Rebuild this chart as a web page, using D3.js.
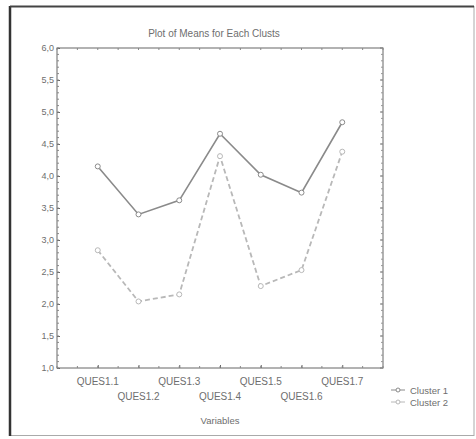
<!DOCTYPE html>
<html><head><meta charset="utf-8">
<script src="https://cdn.jsdelivr.net/npm/d3@7"></script>
<style>body{margin:0;background:#fff}text{font-family:"Liberation Sans",Arial,sans-serif}</style>
</head><body><svg id="c" width="476" height="439"></svg>
<script>
const categories = ["QUES1.1","QUES1.2","QUES1.3","QUES1.4","QUES1.5","QUES1.6","QUES1.7"];
const cluster1 = [4.15, 3.40, 3.62, 4.66, 4.02, 3.74, 4.84];
const cluster2 = [2.84, 2.04, 2.15, 4.31, 2.28, 2.53, 4.38];
const yTicks = [1.0,1.5,2.0,2.5,3.0,3.5,4.0,4.5,5.0,5.5,6.0];
const seriesNames = ["Cluster 1","Cluster 2"];

const svg = d3.select("#c");
const L=57,R=383,T=48,B=368;
const x = d3.scaleLinear().domain([0,categories.length+1]).range([L,R]);
const y = d3.scaleLinear().domain([1,6]).range([B,T]);
const txt = "#6e6e6e";

// outer frame
svg.append("rect").attr("x",10).attr("y",6.5).attr("width",464).attr("height",429)
  .attr("fill","none").attr("stroke","#aaa").attr("stroke-width",1);
svg.append("line").attr("x1",10).attr("x2",10).attr("y1",6).attr("y2",436).attr("stroke","#333").attr("stroke-width",2.5);
svg.append("line").attr("x1",10).attr("x2",474).attr("y1",6.5).attr("y2",6.5).attr("stroke","#444").attr("stroke-width",2);

// title
svg.append("text").attr("x",214).attr("y",37).attr("text-anchor","middle")
  .attr("font-size",10).attr("fill",txt).text("Plot of Means for Each Clusts");

// plot frame
svg.append("rect").attr("x",L).attr("y",T).attr("width",R-L).attr("height",B-T)
  .attr("fill","none").attr("stroke","#666").attr("stroke-width",1);

// y axis
const ya = svg.append("g").attr("transform",`translate(${L},0)`)
  .call(d3.axisLeft(y).tickValues(yTicks).tickSize(-3).tickPadding(3).tickFormat(d=>d3.format(".1f")(d).replace(".",",")));
ya.select(".domain").remove();
ya.selectAll("text").attr("font-size",9).attr("fill",txt);
ya.selectAll("line").attr("stroke","#666");
// minor ticks
const minor = d3.range(1,6.01,0.1);
svg.append("g").selectAll("line").data(minor).join("line")
  .attr("x1",L).attr("x2",L+2).attr("y1",d=>y(d)).attr("y2",d=>y(d)).attr("stroke","#888");
svg.append("g").selectAll("line").data(yTicks).join("line")
  .attr("x1",R).attr("x2",R-3).attr("y1",d=>y(d)).attr("y2",d=>y(d)).attr("stroke","#777");
svg.append("g").selectAll("line").data(minor).join("line")
  .attr("x1",R).attr("x2",R-2).attr("y1",d=>y(d)).attr("y2",d=>y(d)).attr("stroke","#999");

// x axis ticks
const xIdx = d3.range(1,categories.length+1);
const xa = svg.append("g").attr("transform",`translate(0,${B})`)
  .call(d3.axisBottom(x).tickValues(xIdx).tickSize(-3).tickFormat(""));
xa.select(".domain").remove();
xa.selectAll("line").attr("stroke","#666");
const xminor = d3.range(0,categories.length+1.01,0.5);
svg.append("g").selectAll("line").data(xminor).join("line")
  .attr("x1",d=>x(d)).attr("x2",d=>x(d)).attr("y1",B).attr("y2",B-2).attr("stroke","#888");
svg.append("g").selectAll("line").data(xminor).join("line")
  .attr("x1",d=>x(d)).attr("x2",d=>x(d)).attr("y1",T).attr("y2",T+2).attr("stroke","#888");
svg.append("g").selectAll("text").data(categories).join("text")
  .attr("x",(d,i)=>x(i+1)).attr("y",(d,i)=>i%2===0?385:400).attr("text-anchor","middle")
  .attr("font-size",10).attr("fill",txt).text(d=>d);
svg.append("text").attr("x",220).attr("y",424).attr("text-anchor","middle")
  .attr("font-size",9.5).attr("fill",txt).text("Variables");

// lines
const line = d3.line().x((d,i)=>x(i+1)).y(d=>y(d));
const styles = [{c:"#8a8a8a",dash:null,w:1.6},{c:"#b8b8b8",dash:"5,3",w:1.8}];
[cluster1,cluster2].forEach((s,k)=>{
  svg.append("path").datum(s).attr("d",line).attr("fill","none")
    .attr("stroke",styles[k].c).attr("stroke-width",styles[k].w).attr("stroke-dasharray",styles[k].dash);
  svg.append("g").selectAll("circle").data(s).join("circle")
    .attr("cx",(d,i)=>x(i+1)).attr("cy",d=>y(d)).attr("r",2.5)
    .attr("fill","#fff").attr("stroke",styles[k].c).attr("stroke-width",1);
});

// legend
seriesNames.forEach((n,k)=>{
  const ly = 390 + k*12;
  svg.append("line").attr("x1",391).attr("x2",405).attr("y1",ly).attr("y2",ly)
    .attr("stroke",styles[k].c).attr("stroke-width",1);
  svg.append("circle").attr("cx",398).attr("cy",ly).attr("r",2).attr("fill","#fff").attr("stroke",styles[k].c);
  svg.append("text").attr("x",410).attr("y",ly+3.5).attr("font-size",9.5).attr("fill",txt).text(n);
});
</script></body></html>
